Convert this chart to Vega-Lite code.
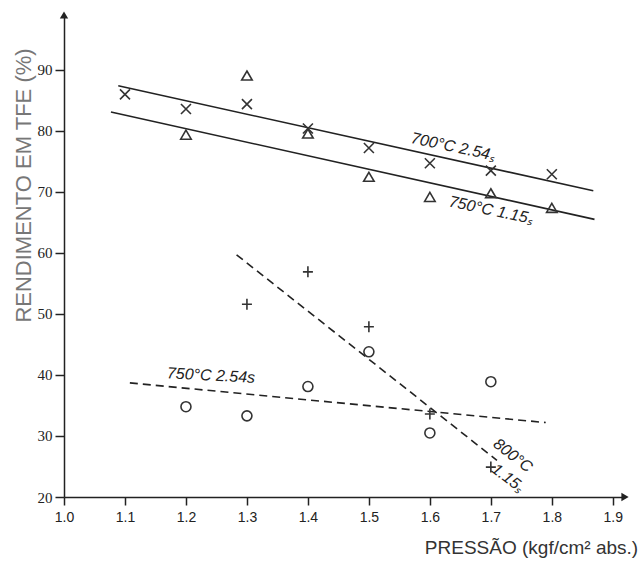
{
  "$schema": "https://vega.github.io/schema/vega-lite/v6.json",
  "width": 561,
  "height": 482,
  "autosize": {"type": "none"},
  "padding": {"left": 64, "top": 15, "right": 15, "bottom": 64},
  "background": "white",
  "config": {"view": {"stroke": null}},
  "datasets": {
    "pts": [
      {"p": 1.1, "r": 86.0, "s": "700°C 2.54s"},
      {"p": 1.2, "r": 83.6, "s": "700°C 2.54s"},
      {"p": 1.3, "r": 84.4, "s": "700°C 2.54s"},
      {"p": 1.4, "r": 80.4, "s": "700°C 2.54s"},
      {"p": 1.5, "r": 77.2, "s": "700°C 2.54s"},
      {"p": 1.6, "r": 74.7, "s": "700°C 2.54s"},
      {"p": 1.7, "r": 73.5, "s": "700°C 2.54s"},
      {"p": 1.8, "r": 72.9, "s": "700°C 2.54s"},
      {"p": 1.2, "r": 79.3, "s": "750°C 1.15s"},
      {"p": 1.3, "r": 89.0, "s": "750°C 1.15s"},
      {"p": 1.4, "r": 79.5, "s": "750°C 1.15s"},
      {"p": 1.5, "r": 72.4, "s": "750°C 1.15s"},
      {"p": 1.6, "r": 69.1, "s": "750°C 1.15s"},
      {"p": 1.7, "r": 69.7, "s": "750°C 1.15s"},
      {"p": 1.8, "r": 67.3, "s": "750°C 1.15s"},
      {"p": 1.3, "r": 51.6, "s": "800°C 1.15s"},
      {"p": 1.4, "r": 56.9, "s": "800°C 1.15s"},
      {"p": 1.5, "r": 47.9, "s": "800°C 1.15s"},
      {"p": 1.6, "r": 33.6, "s": "800°C 1.15s"},
      {"p": 1.7, "r": 24.9, "s": "800°C 1.15s"},
      {"p": 1.2, "r": 34.8, "s": "750°C 2.54s"},
      {"p": 1.3, "r": 33.3, "s": "750°C 2.54s"},
      {"p": 1.4, "r": 38.1, "s": "750°C 2.54s"},
      {"p": 1.5, "r": 43.8, "s": "750°C 2.54s"},
      {"p": 1.6, "r": 30.5, "s": "750°C 2.54s"},
      {"p": 1.7, "r": 38.9, "s": "750°C 2.54s"}
    ],
    "fits": [
      {"p": 1.089, "r": 87.4, "s": "700°C 2.54s", "kind": "solid"},
      {"p": 1.868, "r": 70.2, "s": "700°C 2.54s", "kind": "solid"},
      {"p": 1.077, "r": 83.1, "s": "750°C 1.15s", "kind": "solid"},
      {"p": 1.87, "r": 65.5, "s": "750°C 1.15s", "kind": "solid"},
      {"p": 1.283, "r": 59.7, "s": "800°C 1.15s", "kind": "dashed"},
      {"p": 1.71, "r": 26.0, "s": "800°C 1.15s", "kind": "dashed"},
      {"p": 1.108, "r": 38.7, "s": "750°C 2.54s", "kind": "dashed"},
      {"p": 1.79, "r": 32.2, "s": "750°C 2.54s", "kind": "dashed"}
    ],
    "labels": [
      {"id": "a", "txt": "700°C 2.54ₛ", "p": 1.638, "r": 77.4},
      {"id": "b", "txt": "750°C 1.15ₛ", "p": 1.70, "r": 67.0},
      {"id": "c", "txt": "750°C 2.54s", "p": 1.241, "r": 39.9},
      {"id": "d", "txt": "800°C", "p": 1.736, "r": 26.8},
      {"id": "e", "txt": "1.15ₛ", "p": 1.728, "r": 23.1}
    ],
    "arrows": [
      {"p": 1.0, "r": 99, "dir": "up"},
      {"p": 1.92, "r": 20, "dir": "right"}
    ]
  },
  "encoding": {
    "x": {
      "field": "p", "type": "quantitative",
      "scale": {"domain": [1.0, 1.92], "nice": false, "zero": false},
      "axis": {
        "title": "PRESSÃO (kgf/cm² abs.)",
        "values": [1.0, 1.1, 1.2, 1.3, 1.4, 1.5, 1.6, 1.7, 1.8, 1.9],
        "format": ".1f",
        "grid": false,
        "domainColor": "#222", "domainWidth": 1.5,
        "tickColor": "#222", "tickWidth": 1.5, "tickSize": 8,
        "labelFont": "Liberation Sans", "labelFontSize": 14, "labelColor": "#222",
        "labelPadding": 5, "labelFlush": false,
        "titleFont": "Liberation Sans", "titleFontSize": 19, "titleFontWeight": "normal",
        "titleColor": "#333", "titleX": 467, "titleY": 50, "titleAlign": "center", "titleBaseline": "middle"
      }
    },
    "y": {
      "field": "r", "type": "quantitative",
      "scale": {"domain": [20, 99], "nice": false, "zero": false},
      "axis": {
        "title": "RENDIMENTO EM TFE (%)",
        "values": [20, 30, 40, 50, 60, 70, 80, 90],
        "grid": false,
        "domainColor": "#222", "domainWidth": 1.5,
        "tickColor": "#222", "tickWidth": 1.5, "tickSize": 9,
        "labelFont": "Liberation Serif", "labelFontSize": 15, "labelColor": "#222",
        "labelPadding": 3, "labelFlush": false,
        "titleFont": "Liberation Sans", "titleFontSize": 22, "titleFontWeight": "normal",
        "titleColor": "#777", "titleAngle": -90, "titleX": -41, "titleY": 170,
        "titleAlign": "center", "titleBaseline": "middle"
      }
    }
  },
  "layer": [
    {
      "data": {"name": "fits"},
      "transform": [{"filter": "datum.kind == 'solid'"}],
      "mark": {"type": "line", "color": "#222", "strokeWidth": 1.6},
      "encoding": {"detail": {"field": "s"}}
    },
    {
      "data": {"name": "fits"},
      "transform": [{"filter": "datum.kind == 'dashed'"}],
      "mark": {"type": "line", "color": "#222", "strokeWidth": 1.6, "strokeDash": [8, 5]},
      "encoding": {"detail": {"field": "s"}}
    },
    {
      "data": {"name": "pts"},
      "mark": {"type": "point", "filled": false, "color": "#333", "strokeWidth": 1.6, "size": 100, "opacity": 1},
      "encoding": {
        "shape": {
          "field": "s", "type": "nominal", "legend": null,
          "scale": {
            "domain": ["700°C 2.54s", "750°C 1.15s", "800°C 1.15s", "750°C 2.54s"],
            "range": ["M-1,-1L1,1M-1,1L1,-1", "M0,-1L1.05,0.8L-1.05,0.8Z", "M-1,0L1,0M0,-1.1L0,1.1", "circle"]
          }
        }
      }
    },
    {
      "data": {"name": "labels"},
      "transform": [{"filter": {"field": "id", "oneOf": ["a", "b"]}}],
      "mark": {"type": "text", "angle": 12, "font": "Liberation Sans", "fontStyle": "italic", "fontSize": 16, "color": "#222", "align": "center", "baseline": "middle"},
      "encoding": {"text": {"field": "txt"}}
    },
    {
      "data": {"name": "labels"},
      "transform": [{"filter": {"field": "id", "oneOf": ["c"]}}],
      "mark": {"type": "text", "angle": 3, "font": "Liberation Sans", "fontStyle": "italic", "fontSize": 16, "color": "#222", "align": "center", "baseline": "middle"},
      "encoding": {"text": {"field": "txt"}}
    },
    {
      "data": {"name": "labels"},
      "transform": [{"filter": {"field": "id", "oneOf": ["d", "e"]}}],
      "mark": {"type": "text", "angle": 38, "font": "Liberation Sans", "fontStyle": "italic", "fontSize": 16, "color": "#222", "align": "center", "baseline": "middle"},
      "encoding": {"text": {"field": "txt"}}
    },
    {
      "data": {"name": "arrows"},
      "transform": [{"filter": "datum.dir == 'up'"}],
      "mark": {"type": "point", "shape": "triangle-up", "filled": true, "color": "#222", "size": 70, "opacity": 1}
    },
    {
      "data": {"name": "arrows"},
      "transform": [{"filter": "datum.dir == 'right'"}],
      "mark": {"type": "point", "shape": "triangle-right", "filled": true, "color": "#222", "size": 70, "opacity": 1}
    }
  ]
}
